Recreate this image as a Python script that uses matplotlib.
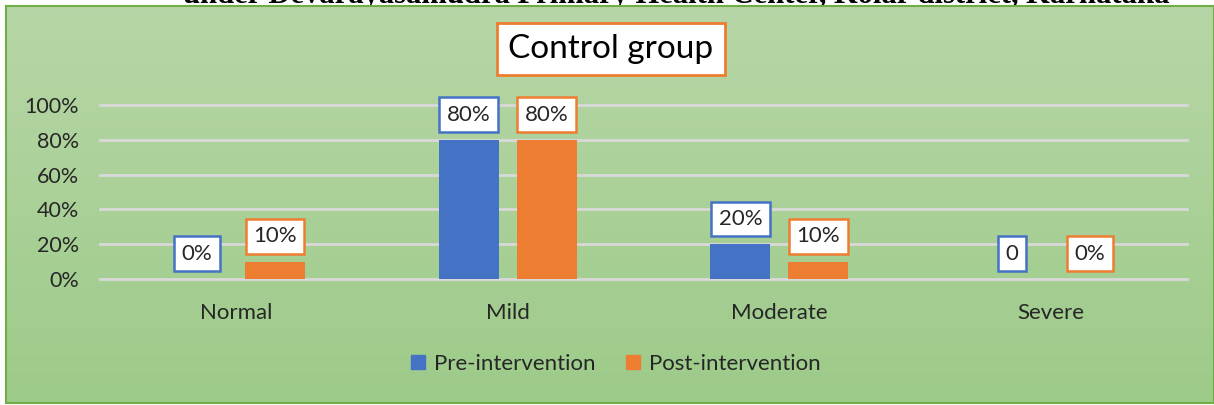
import numpy as np
import matplotlib
matplotlib.use("Agg")
import matplotlib.pyplot as plt
from matplotlib.lines import Line2D

# data
categories = ["Normal", "Mild", "Moderate", "Severe"]
pre = [0.0, 0.8, 0.2, 0.0]
post = [0.1, 0.8, 0.1, 0.0]
pre_labels = ["0%", "80%", "20%", "0"]
post_labels = ["10%", "80%", "10%", "0%"]
yticks = [0, 0.2, 0.4, 0.6, 0.8, 1.0]
ytick_labels = ["0%", "20%", "40%", "60%", "80%", "100%"]

BLUE = "#4472c4"
ORANGE = "#ed7d31"
W, H = 1214, 405

plt.rcParams["font.family"] = ["Lato", "DejaVu Sans"]

fig = plt.figure(figsize=(W / 100, H / 100), dpi=100)

# cut-off heading above the chart (only its lower part shows)
fig.text(676 / W, 1 + 19.5 / H, "under Devarayasamudra Primary Health Center, Kolar district, Karnataka",
         ha="center", va="top", fontsize=22, fontweight="bold",
         family="Liberation Serif", color="black", zorder=-1)

# green gradient frame
bg = fig.add_axes([6 / W, 1 - 403 / H, (W - 6) / W, (403 - 6) / H], zorder=0)
top_c = np.array([183, 214, 167]) / 255
bot_c = np.array([157, 203, 137]) / 255
t = np.linspace(0, 1, 256)[:, None]
grad = top_c[None, :] * (1 - t) + bot_c[None, :] * t
bg.imshow(grad[:, None, :], aspect="auto", extent=[0, 1, 0, 1])
bg.set_xticks([])
bg.set_yticks([])
for s in bg.spines.values():
    s.set_color("#70ad47")
    s.set_linewidth(1.5)

# plot area
ax = fig.add_axes([100 / W, 1 - 279 / H, (1187 - 100) / W, (279 - 105) / H], zorder=1)
ax.patch.set_alpha(0)
x = np.arange(len(categories))
bw = 0.22
off = 0.1435
ax.bar(x - off, pre, bw, color=BLUE, zorder=3)
ax.bar(x + off, post, bw, color=ORANGE, zorder=3)

ax.set_xlim(-0.5, 3.5)
ax.set_ylim(0, 1)
ax.set_yticks(yticks)
ax.set_yticklabels(ytick_labels)
ax.set_xticks(x)
ax.set_xticklabels(categories)
ax.tick_params(axis="both", length=0, labelsize=15.5, colors="#262626")
ax.tick_params(axis="x", labelsize=16, pad=17)
ax.tick_params(axis="y", pad=15)
for s in ax.spines.values():
    s.set_visible(False)
ax.yaxis.grid(True, color="#d9d9d9", linewidth=2, zorder=1)
ax.set_axisbelow(True)
for gl in ax.get_ygridlines():
    gl.set_clip_on(False)

for xs, vals, labs, col in [(x - off, pre, pre_labels, BLUE), (x + off, post, post_labels, ORANGE)]:
    for xi, v, lab in zip(xs, vals, labs):
        ax.annotate(lab, (xi, v), xytext=(0, 11), textcoords="offset points",
                    ha="center", va="bottom", fontsize=16, color="#262626", zorder=5,
                    bbox=dict(boxstyle="square,pad=0.33", fc="white", ec=col, lw=1.8))

# title box
fig.text(611 / W, 1 - 49 / H, "Control group", ha="center", va="center", fontsize=24,
         color="black", zorder=5,
         bbox=dict(boxstyle="square,pad=0.34", fc="white", ec=ORANGE, lw=2))

handles = [Line2D([], [], marker="s", linestyle="none", markersize=9.5, color=BLUE),
           Line2D([], [], marker="s", linestyle="none", markersize=9.5, color=ORANGE)]
fig.legend(handles, ["Pre-intervention", "Post-intervention"], loc="center",
           bbox_to_anchor=(615 / W, 1 - 364 / H), ncol=2, frameon=False,
           fontsize=16, handlelength=0.8, handletextpad=0.3, columnspacing=1.3,
           labelcolor="#262626")

fig.savefig("out.png", dpi=100)
